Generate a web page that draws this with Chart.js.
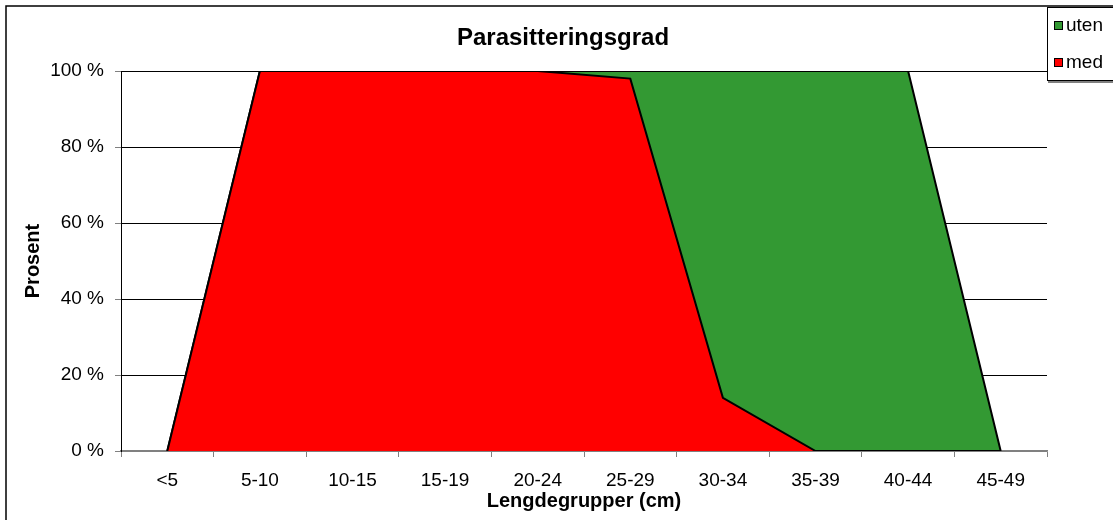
<!DOCTYPE html>
<html>
<head>
<meta charset="utf-8">
<script src="https://cdn.jsdelivr.net/npm/chart.js@4/dist/chart.umd.min.js"></script>
<style>
  body { margin: 0; background: #fff; font-family: Arial, "Liberation Sans", sans-serif; }
  #wrap { position: relative; width: 1113px; height: 520px; overflow: hidden; }
  #legend {
    position: absolute; left: 1047px; top: 7px; width: 90px; height: 72px;
    background: #fff; border: 1px solid #000; box-shadow: 1px 2px 0 #808080;
    font-size: 19px; color: #000;
  }
  .item { position: absolute; left: 6px; height: 22px; line-height: 22px; white-space: nowrap; }
  .item span.box { display: inline-block; width: 7px; height: 7px; border: 1px solid #000; margin-right: 3px; vertical-align: 1px; }
</style>
</head>
<body>
<div id="wrap">
  <canvas id="chartGrad"></canvas>
  <div id="legend">
    <div class="item" style="top:6px"><span class="box" style="background:#339933"></span>uten</div>
    <div class="item" style="top:43px"><span class="box" style="background:#ff0000"></span>med</div>
  </div>
</div>
<script>
  // kategorier og verdier (prosent)
  const lengdegrupper = ["<5", "5-10", "10-15", "15-19", "20-24", "25-29", "30-34", "35-39", "40-44", "45-49"];
  const med = [0, 100, 100, 100, 100, 98, 14, 0, 0, 0];
  const uten = [0, 0, 0, 0, 0, 2, 86, 100, 100, 0];
  const yTicks = [0, 20, 40, 60, 80, 100];

  Chart.defaults.font.family = 'Arial, "Liberation Sans", sans-serif';
  Chart.defaults.color = "#000";

  // ramme og tittel
  const rammePlugin = {
    id: "ramme",
    beforeDraw(chart) {
      const c = chart.ctx;
      c.save();
      c.strokeStyle = "#000";
      c.lineWidth = 1.5;
      c.strokeRect(6, 6, 2000, 2000);
      c.restore();
    },
    afterDraw(chart) {
      const c = chart.ctx;
      c.save();
      c.font = 'bold 24px Arial, "Liberation Sans", sans-serif';
      c.fillStyle = "#000";
      c.textAlign = "center";
      c.textBaseline = "middle";
      c.fillText("Parasitteringsgrad", 563, 38);
      c.restore();
    },
  };

  const ctxGrad = document.getElementById("chartGrad");
  new Chart(ctxGrad, {
    type: "line",
    data: {
      labels: lengdegrupper,
      datasets: [
        {
          label: "med",
          data: med,
          backgroundColor: "#ff0000",
          borderColor: "#000",
          borderWidth: 2,
          fill: "origin",
          pointRadius: 0,
          tension: 0,
        },
        {
          label: "uten",
          data: uten,
          backgroundColor: "#339933",
          borderColor: "#000",
          borderWidth: 2,
          fill: "-1",
          pointRadius: 0,
          tension: 0,
        },
      ],
    },
    options: {
      responsive: true,
      maintainAspectRatio: false,
      animation: false,
      layout: { padding: { left: 6, right: 66, top: 71, bottom: 0 } },
      plugins: {
        legend: { display: false },
        tooltip: { enabled: false },
      },
      scales: {
        x: {
          offset: true,
          grid: {
            offset: true,
            drawOnChartArea: false,
            tickLength: 6,
            tickColor: "#808080",
          },
          border: { color: "#808080", width: 1.5 },
          ticks: { font: { size: 19 }, padding: 12, maxRotation: 0 },
          title: {
            display: true,
            text: "Lengdegrupper (cm)",
            font: { size: 20, weight: "bold" },
            padding: { top: 0, bottom: 7 },
          },
          afterFit(scale) {
            scale.height = 69;
          },
        },
        y: {
          stacked: true,
          min: 0,
          max: 100,
          afterBuildTicks(scale) {
            scale.ticks = yTicks.map((v) => ({ value: v }));
          },
          grid: {
            color: (c) => (c.tick && c.tick.value === 0 ? "#808080" : "#000"),
            tickLength: 6,
            tickColor: "#808080",
          },
          border: { color: "#000", width: 1 },
          ticks: {
            font: { size: 19 },
            padding: 11,
            callback: (v) => v + " %",
          },
          title: {
            display: true,
            text: "Prosent",
            font: { size: 20, weight: "bold" },
            padding: { top: 15, bottom: 0 },
          },
          afterFit(scale) {
            scale.width = 115;
          },
        },
      },
    },
    plugins: [rammePlugin],
  });
</script>
</body>
</html>
